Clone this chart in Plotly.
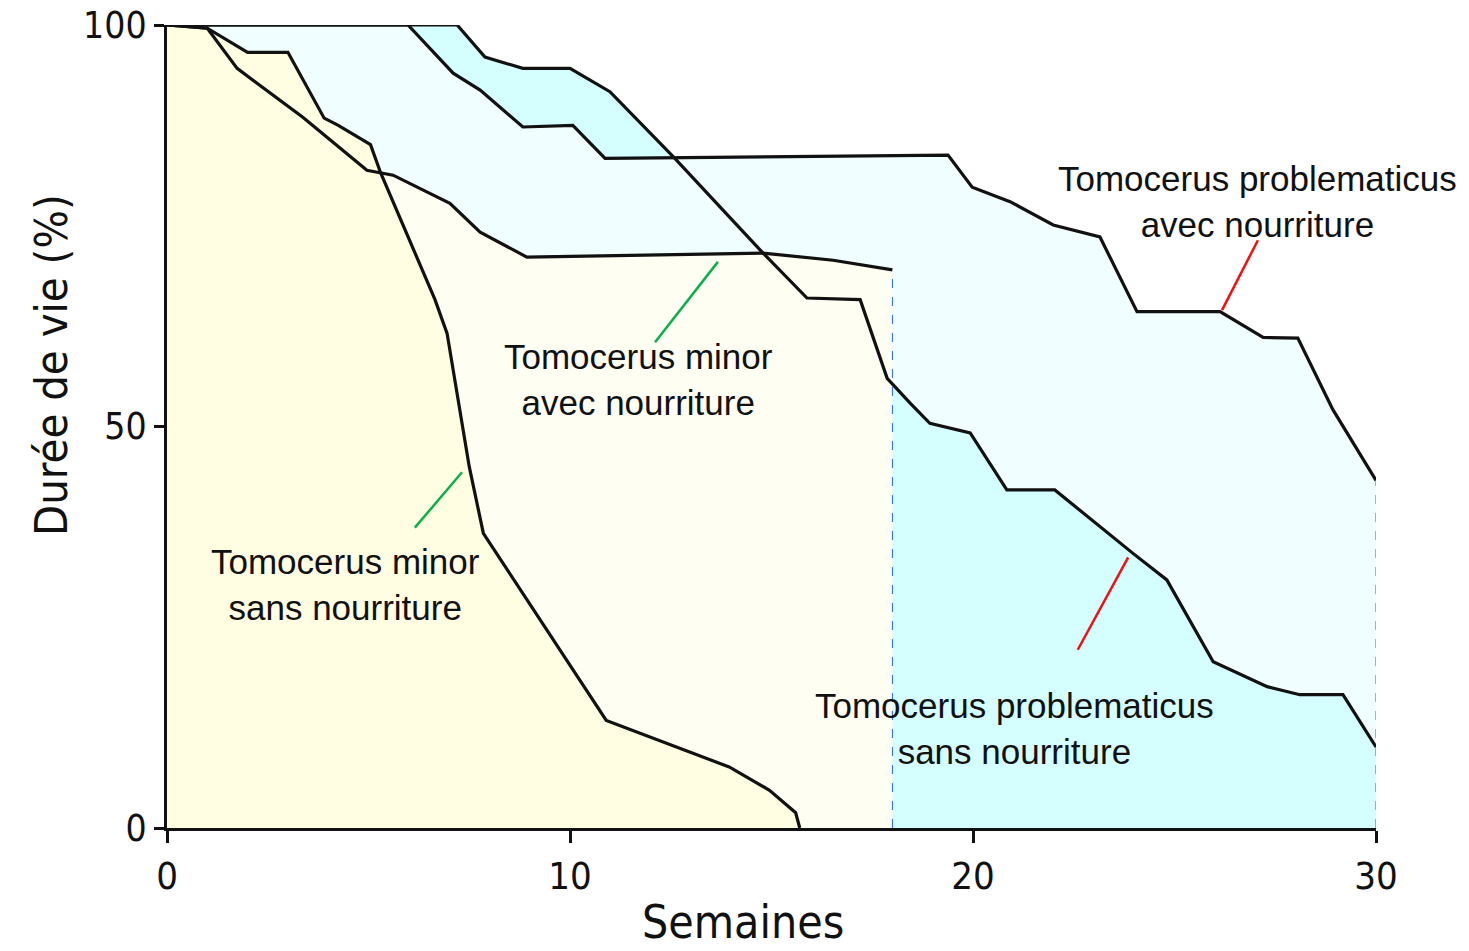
import plotly.graph_objects as go

# ---- data ----
minor_sans_x = [0, 1, 2, 3, 3.9, 4.25, 5.05, 5.3, 6.65, 6.95, 7.5, 7.85, 10.9, 13.95, 14.95, 15.6, 15.7]
minor_sans_y = [100, 99.6, 96.6, 96.6, 88.4, 87.5, 85.1, 81.6, 65.8, 61.6, 45.0, 36.7, 13.4, 7.6, 4.7, 1.9, 0]

minor_avec_x = [0, 1, 1.74, 2.31, 3.37, 4.96, 5.61, 7.02, 7.77, 8.93, 12.73, 14.79, 16.53, 18]
minor_avec_y = [100, 99.6, 94.6, 92.5, 88.5, 81.9, 81.3, 77.8, 74.2, 71.1, 71.4, 71.6, 70.7, 69.5]

prob_avec_x = [0, 5.98, 7.1, 7.77, 8.83, 10.07, 10.87, 19.38, 19.98, 20.92, 21.99, 23.15, 24.07, 26.13, 27.2, 28.06, 28.93, 30]
prob_avec_y = [100, 100, 94.0, 91.9, 87.3, 87.5, 83.4, 83.8, 79.8, 78.0, 75.1, 73.6, 64.3, 64.3, 61.1, 61.0, 52.1, 43.3]

prob_sans_x = [0, 7.2, 7.89, 8.83, 10.0, 10.99, 12.56, 14.79, 15.88, 17.2, 17.87, 18.44, 18.93, 19.93, 20.84,
               22.03, 23.97, 24.81, 25.96, 27.3, 28.11, 29.18, 30]
prob_sans_y = [100, 100, 96.0, 94.6, 94.6, 91.7, 83.6, 71.6, 66.0, 65.8, 56.0, 52.9, 50.4, 49.2, 42.1,
               42.1, 34.2, 30.9, 20.7, 17.6, 16.6, 16.6, 10.1]

x_ticks = [0, 10, 20, 30]
y_ticks = [0, 50, 100]

x_title = "Semaines"
y_title = "Durée de vie (%)"

labels = [
    "Tomocerus minor<br>avec nourriture",
    "Tomocerus minor<br>sans nourriture",
    "Tomocerus problematicus<br>avec nourriture",
    "Tomocerus problematicus<br>sans nourriture",
]
label_x = [11.69, 4.42, 27.05, 21.04]
label_y = [55.8, 30.3, 78.0, 12.45]
# pointer lines (start, end) for each label
ptr_x0 = [12.11, 6.15, 27.07, 22.6]
ptr_y0 = [60.5, 37.4, 73.2, 22.2]
ptr_x1 = [13.67, 7.32, 26.18, 23.85]
ptr_y1 = [70.5, 44.3, 64.5, 33.7]
ptr_col = ["#0BB04A", "#0BB04A", "#F01010", "#F01010"]

# ---- colours ----
c_minor_sans = "#FFFDE2"
c_minor_avec = "#FEFEF2"
c_prob_avec = "#F0FEFF"
c_prob_sans = "#D4FEFF"

fig = go.Figure()

def fill_trace(x, y, col):
    fig.add_trace(go.Scatter(x=x, y=y, mode="lines", fill="tozeroy", fillcolor=col,
                             line=dict(width=0, color=col), hoverinfo="skip", showlegend=False))

# fills (layered)
fill_trace(prob_sans_x, prob_sans_y, c_prob_sans)
fill_trace(prob_avec_x, prob_avec_y, c_prob_avec)
i18 = 9  # start of the right-hand part of the problematicus 'sans' curve
fill_trace(prob_sans_x[i18:], prob_sans_y[i18:], c_prob_sans)
fill_trace(minor_avec_x, minor_avec_y, c_minor_avec)
fill_trace(minor_sans_x, minor_sans_y, c_minor_sans)

# dashed end markers
for xs, ys in [(minor_avec_x, minor_avec_y), (prob_avec_x, prob_avec_y)]:
    fig.add_trace(go.Scatter(x=[xs[-1], xs[-1]], y=[0, ys[-1]], mode="lines",
                             line=dict(color="#2266EE", width=1, dash="dash"),
                             hoverinfo="skip", showlegend=False, cliponaxis=False))

# curves
for xs, ys in [(minor_sans_x, minor_sans_y), (minor_avec_x, minor_avec_y),
               (prob_avec_x, prob_avec_y), (prob_sans_x, prob_sans_y)]:
    fig.add_trace(go.Scatter(x=xs, y=ys, mode="lines", line=dict(color="#111111", width=3.2),
                             hoverinfo="skip", showlegend=False, cliponaxis=False))

# pointer lines
for i in range(4):
    fig.add_trace(go.Scatter(x=[ptr_x0[i], ptr_x1[i]], y=[ptr_y0[i], ptr_y1[i]], mode="lines",
                             line=dict(color=ptr_col[i], width=2.5),
                             hoverinfo="skip", showlegend=False))

for i in range(4):
    fig.add_annotation(x=label_x[i], y=label_y[i], text=labels[i], showarrow=False,
                       font=dict(family="Liberation Sans, Arial, sans-serif", size=35, color="#111111"),
                       align="center", xanchor="center", yanchor="middle")

narrow = "DejaVu Sans Condensed, Liberation Sans Narrow, sans-serif"

# axis titles
fig.add_annotation(xref="paper", yref="paper", x=0.4764, y=-0.117, text=x_title, showarrow=False,
                   font=dict(family=narrow, size=46, color="#111111"), xanchor="center", yanchor="middle")
fig.add_annotation(xref="paper", yref="paper", x=-0.0951, y=0.5766, text=y_title, showarrow=False,
                   textangle=-90, font=dict(family=narrow, size=45, color="#111111"),
                   xanchor="center", yanchor="middle")

fig.update_layout(
    width=1461, height=943,
    margin=dict(l=159, r=93, t=17, b=123),
    paper_bgcolor="white", plot_bgcolor="white",
    xaxis=dict(range=[0, 30], tickvals=x_ticks, ticktext=[str(v) for v in x_ticks],
               showgrid=False, zeroline=False, showline=True, linecolor="#111111", linewidth=3,
               ticks="outside", ticklen=12, tickwidth=3, tickcolor="#111111",
               ticklabeloverflow="allow", automargin=False,
               tickfont=dict(family=narrow, size=38, color="#111111")),
    yaxis=dict(range=[0, 100], tickvals=y_ticks, ticktext=[str(v) for v in y_ticks],
               showgrid=False, zeroline=False, showline=True, linecolor="#111111", linewidth=3,
               ticks="outside", ticklen=10, tickwidth=3, tickcolor="#111111",
               ticklabeloverflow="allow", automargin=False,
               tickfont=dict(family=narrow, size=37, color="#111111")),
)

fig.write_html("out.html")
